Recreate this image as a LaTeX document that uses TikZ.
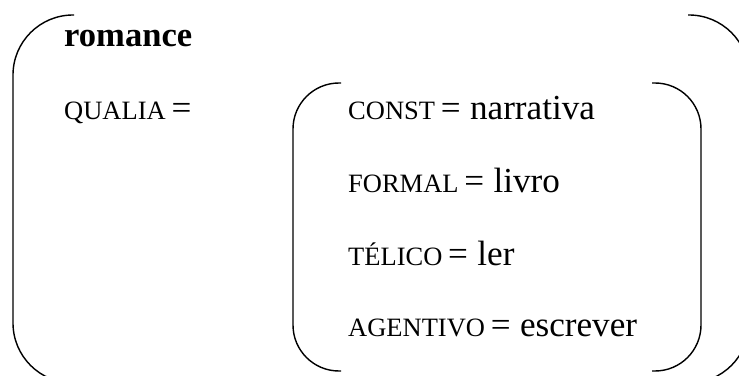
\documentclass[tikz,border=0pt]{standalone}
\usepackage{fontspec}
\setmainfont{Liberation Serif}
\usetikzlibrary{positioning}
\newcommand{\qsc}[1]{{\fontsize{22.6}{26}\selectfont #1}}
\newcommand{\qeq}{\hspace{5pt}=\hspace{8pt}}
\tikzset{
  outerbracket/.style={line width=1.2pt,rounded corners=1.8cm},
  innerbracket/.style={line width=1.2pt,rounded corners=1.38cm},
  featlabel/.style={anchor=base west,inner sep=0pt,font=\fontsize{30}{34}\selectfont},
  headlabel/.style={featlabel,font=\fontsize{29.5}{34}\selectfont\bfseries}
}

\begin{document}
\begin{tikzpicture}[x=0.03cm,y=-0.03cm]
  \useasboundingbox (0,0) rectangle (739,376);
  \clip (0,0) rectangle (739,376);
  % outer matrix
  \draw[outerbracket] (74,15) -- (13,15) -- (13,383) -- (74,383);
  \draw[outerbracket] (688,15) -- (749,15) -- (749,383) -- (688,383);
  \node[headlabel] (head) at (64,47) {romance};
  \node[featlabel] (qualia) at (64,120) {\qsc{QUALIA}\qeq};

  % qualia structure
  \draw[innerbracket] (341,83) -- (293,83) -- (293,371) -- (341,371);
  \draw[innerbracket] (652,83) -- (701,83) -- (701,371) -- (652,371);
  \foreach \n/\a/\v/\y in {const/CONST/narrativa/120,formal/FORMAL/livro/193,
                           telico/TÉLICO/ler/265,agentivo/AGENTIVO/escrever/336}
    \node[featlabel] (\n) at (348,\y) {\qsc{\a}\qeq\v};
\end{tikzpicture}
\end{document}
